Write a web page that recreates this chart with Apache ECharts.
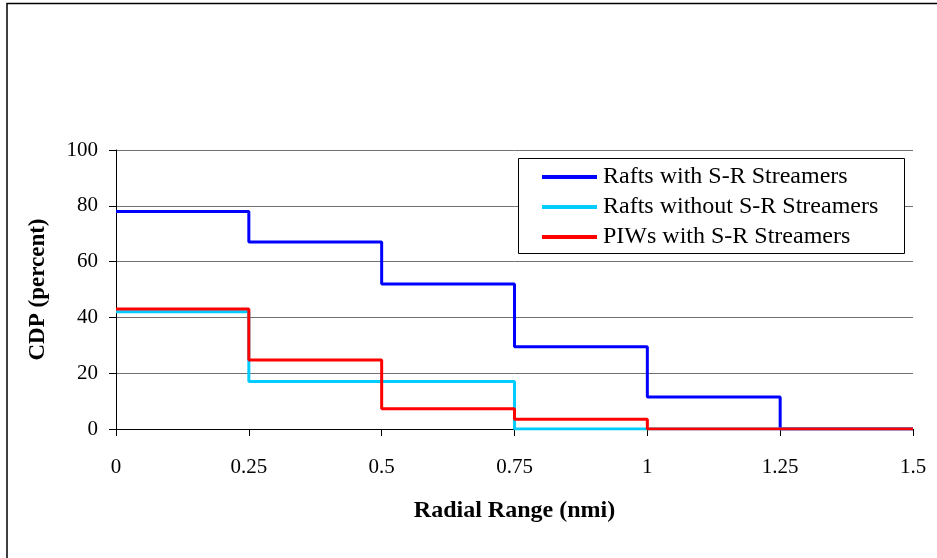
<!DOCTYPE html>
<html><head><meta charset="utf-8">
<script src="https://cdn.jsdelivr.net/npm/echarts@6/dist/echarts.min.js"></script>
<style>html,body{margin:0;padding:0;background:#fff}#c{width:937px;height:558px}</style>
</head><body><div id="c"></div>
<script>
const xSteps = [0, 0.25, 0.5, 0.75, 1, 1.25, 1.5];
const raftsWith = [78, 67, 52, 29.5, 11.5, 0, 0];
const raftsWithout = [42, 17, 17, 0, 0, 0, 0];
const piwsWith = [43, 24.7, 7.3, 3.5, 0, 0, 0];
const seriesNames = ['Rafts with S-R Streamers', 'Rafts without S-R Streamers', 'PIWs with S-R Streamers'];
const seriesColors = ['#0000ff', '#00ccff', '#ff0000'];
const seriesValues = [raftsWith, raftsWithout, piwsWith];

const font = 'Liberation Serif, Times New Roman, serif';
const chart = echarts.init(document.getElementById('c'), null, {renderer: 'canvas'});
chart.setOption({
  animation: false,
  backgroundColor: '#fff',
  graphic: [{
    type: 'polyline', silent: true,
    shape: {points: [[7, 560], [7, 3.5], [940, 3.5]]},
    style: {stroke: '#000', lineWidth: 1.5, fill: null}
  }, {
    type: 'rect', silent: true, z: 50,
    shape: {x: 518.5, y: 158.5, width: 386, height: 95},
    style: {stroke: '#000', lineWidth: 1, fill: '#fff'}
  }],
  grid: {left: 116, right: 24, top: 150, bottom: 129, containLabel: false},
  legend: {
    show: true, z: 60,
    left: 542, top: 165,
    orient: 'vertical',
    padding: 0,
    itemGap: 6,
    itemWidth: 55, itemHeight: 4,
    borderWidth: 0,
    icon: 'rect',
    textStyle: {fontFamily: font, fontSize: 24, lineHeight: 22, color: '#000', padding: [0, 0, 0, 1]},
    data: seriesNames
  },
  xAxis: {
    type: 'value', min: 0, max: 1.5, interval: 0.25,
    name: 'Radial Range (nmi)', nameLocation: 'middle', nameGap: 70,
    nameTextStyle: {fontFamily: font, fontSize: 24, fontWeight: 'bold', color: '#000'},
    axisLine: {lineStyle: {color: '#000', width: 1}},
    axisTick: {show: true, length: 7, lineStyle: {color: '#000'}},
    splitLine: {show: false},
    axisLabel: {fontFamily: font, fontSize: 21, color: '#000', margin: 28,
      formatter: v => String(+v.toFixed(2))}
  },
  yAxis: {
    type: 'value', min: 0, max: 100, interval: 20,
    name: 'CDP (percent)', nameLocation: 'middle', nameGap: 66, nameRotate: 90,
    nameTextStyle: {fontFamily: font, fontSize: 23, fontWeight: 'bold', color: '#000'},
    axisLine: {show: true, lineStyle: {color: '#000', width: 1}},
    axisTick: {show: true, length: 7, lineStyle: {color: '#000'}},
    splitLine: {show: true, lineStyle: {color: '#707070', width: 1}},
    axisLabel: {fontFamily: font, fontSize: 21, color: '#000', margin: 18}
  },
  series: seriesNames.map((n, i) => ({
    name: n, type: 'line', step: 'end',
    data: xSteps.map((x, j) => [x, seriesValues[i][j]]),
    showSymbol: false, symbol: 'none',
    lineStyle: {color: seriesColors[i], width: 3},
    itemStyle: {color: seriesColors[i]},
    z: 2 + i
  }))
});
</script></body></html>
